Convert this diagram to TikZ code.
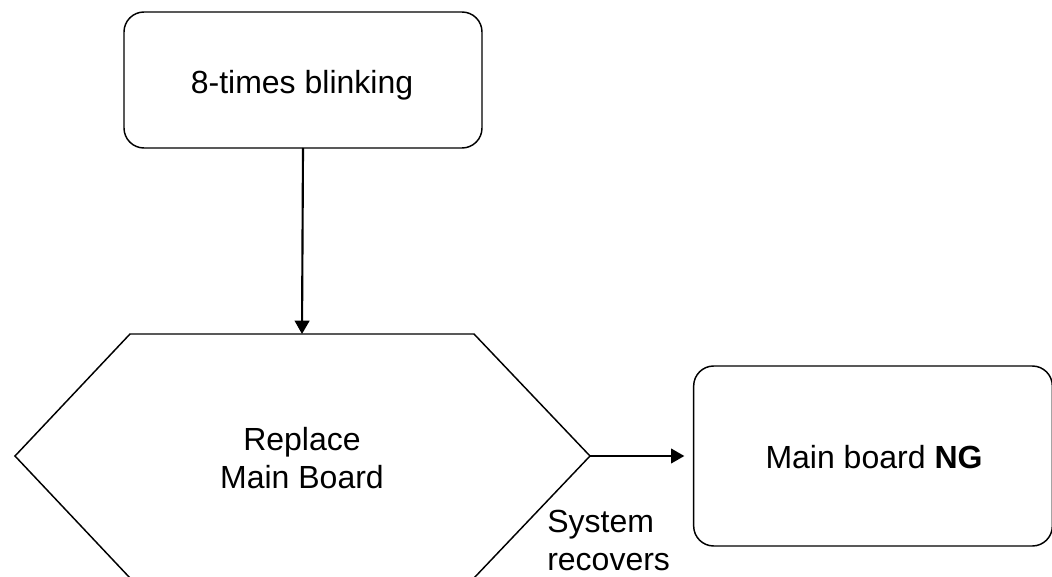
\documentclass[tikz,border=0pt]{standalone}
\usepackage{fontspec}
\setmainfont{Liberation Sans}
\usetikzlibrary{arrows.meta}
\begin{document}
\begin{tikzpicture}[x=0.75pt,y=-0.75pt,
  box/.style={draw,line width=1.1pt,rounded corners=15pt,inner sep=0pt,outer sep=0pt,
    font=\fontsize{24}{28.5}\selectfont,align=center},
  shapeline/.style={draw,line width=1.1pt,line join=miter},
  lbl/.style={font=\fontsize{24}{28}\selectfont,align=left,inner sep=0pt},
  conn/.style={line width=1.6pt,-{Triangle[length=10pt,width=11pt]}}]
\useasboundingbox (0,0) rectangle (1052,577);
\clip (0,0) rectangle (1052,577);
% top box
\node[box,minimum width=268.5pt,minimum height=102pt] (top) at (303,80) {};
\node[font=\fontsize{24}{28.5}\selectfont,inner sep=0pt,anchor=base] (toptxt) at (302,94) {8-times blinking};
% hexagon
\coordinate (hN) at (302,334);
\coordinate (hE) at (590,456);
\draw[shapeline] (130,334) -- (474,334) -- (hE) -- (474,578) -- (130,578) -- (15,456) -- cycle;
\node[font=\fontsize{24}{28.5}\selectfont,align=center,inner sep=0pt] (hex) at (302,458) {Replace\\Main Board};
% right box
\node[box,minimum width=269pt,minimum height=135pt] (ng) at (873,456) {};
\node[font=\fontsize{24}{28.5}\selectfont,inner sep=0pt,anchor=base] (ngtxt) at (874,468) {Main board \textbf{NG}};
% arrows
\draw[conn] (top.south) -- (hN);
\draw[conn,shorten >=7pt] (hE) -- (ng.west);
% label
\node[lbl,anchor=base west] (sys) at (547,570) {System\\recovers};
\end{tikzpicture}
\end{document}
